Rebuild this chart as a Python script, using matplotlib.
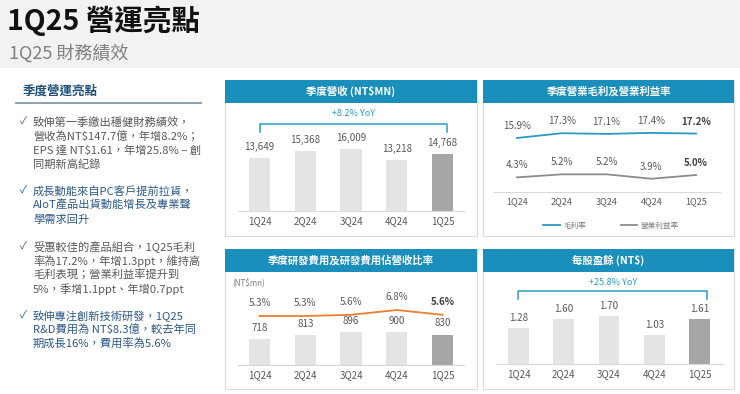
import matplotlib.pyplot as plt
from matplotlib.patches import Rectangle
from matplotlib.lines import Line2D

plt.rcParams['font.family'] = ['Noto Sans CJK TC', 'DejaVu Sans']

# data
quarters = ['1Q24', '2Q24', '3Q24', '4Q24', '1Q25']
revenue = [13649, 15368, 16009, 13218, 14768]
gross_margin = [15.9, 17.3, 17.1, 17.4, 17.2]
op_margin = [4.3, 5.2, 5.2, 3.9, 5.0]
rd_expense = [718, 813, 896, 900, 830]
rd_ratio = [5.3, 5.3, 5.6, 6.8, 5.6]
eps = [1.28, 1.60, 1.70, 1.03, 1.61]
revenue_yoy = '+8.2% YoY'
eps_yoy = '+25.8% YoY'

bullets = [
    ['致伸第一季繳出穩健財務績效，', '營收為NT$147.7億，年增8.2%；',
     'EPS 達 NT$1.61，年增25.8% – 創', '同期新高紀錄'],
    ['成長動能來自PC客戶提前拉貨，', 'AIoT產品出貨動能增長及專業聲', '學需求回升'],
    ['受惠較佳的產品組合，1Q25毛利', '率為17.2%，年增1.3ppt，維持高',
     '毛利表現；營業利益率提升到', '5%，季增1.1ppt、年增0.7ppt'],
    ['致伸專注創新技術研發，1Q25', 'R&D費用為 NT$8.3億，較去年同', '期成長16%，費用率為5.6%'],
]
bullet_colors = ['#595959', '#2e5a87', '#595959', '#2e5a87']
bullet_top = [122, 191, 247, 316]

TEAL = '#1b8fbc'
LIGHT = '#e4e4e4'
DARK = '#a6a6a6'
TXT = '#595959'

W, H = 740, 394
fig = plt.figure(figsize=(W / 100, H / 100), dpi=100, facecolor='white')

# background layer in pixel coords
bg = fig.add_axes([0, 0, 1, 1])
bg.set_xlim(0, W)
bg.set_ylim(H, 0)
bg.axis('off')

bg.add_patch(Rectangle((0, 0), W, 68, color='#f2f2f2', lw=0))
bg.text(7, 21, '1Q25 營運亮點', fontsize=20.5, fontweight='heavy', color='#111111', va='center')
bg.text(9, 53, '1Q25 財務績效', fontsize=13, fontweight='light', color='#808080', va='center')

# left text block
bg.text(23, 91, '季度營運亮點', fontsize=9, fontweight='bold', color='#1f4e79', va='center')
bg.plot([16, 201], [103, 103], color='#8497b0', lw=1.3)
for lines, col, y0 in zip(bullets, bullet_colors, bullet_top):
    bg.text(20, y0, '✓', fontsize=7.5, color=col, va='center')
    for k, ln in enumerate(lines):
        bg.text(33, y0 + k * 14.2, ln, fontsize=8.1, color=col, va='center')

# panels
panels = [
    (225, 80, 477, 236, '季度營收 (NT$MN)'),
    (483, 80, 734, 236, '季度營業毛利及營業利益率'),
    (225, 249, 477, 389, '季度研發費用及研發費用佔營收比率'),
    (483, 249, 734, 389, '每股盈餘 (NT$)'),
]
for x0, y0, x1, y1, title in panels:
    bg.add_patch(Rectangle((x0 + 1, y0 + 1), x1 - x0, y1 - y0, facecolor='#ebebeb', edgecolor='none'))
    bg.add_patch(Rectangle((x0, y0), x1 - x0, y1 - y0, facecolor='white', edgecolor='#dcdcdc', lw=0.8))
    bg.add_patch(Rectangle((x0, y0), x1 - x0, 23, facecolor=TEAL, edgecolor='none'))
    bg.text((x0 + x1) / 2, y0 + 11.5, title, fontsize=7.5, fontweight='bold', color='white',
            ha='center', va='center')


def add_ax(x0, y0, x1, y1):
    ax = fig.add_axes([x0 / W, 1 - y1 / H, (x1 - x0) / W, (y1 - y0) / H])
    ax.patch.set_alpha(0)
    for s in ['top', 'left', 'right']:
        ax.spines[s].set_visible(False)
    ax.spines['bottom'].set_color('#d9d9d9')
    ax.spines['bottom'].set_linewidth(0.8)
    ax.set_yticks([])
    ax.set_xticks(range(len(quarters)), quarters)
    ax.tick_params(axis='x', length=0, pad=4, labelsize=7, labelcolor=TXT)
    return ax


def bars(ax, values, fmt, off=8):
    ax.bar(range(len(values)), values, width=0.46, color=[LIGHT] * 4 + [DARK])
    for i, v in enumerate(values):
        ax.annotate(fmt.format(v), (i, v), xytext=(0, off), textcoords='offset points',
                    ha='center', va='center', fontsize=7, color=TXT)


def bracket(ax, x0, x1, lo, hi, label, ylab):
    ax.plot([x0, x0, x1, x1], [lo, hi, hi, lo], color='#2a9bc4', lw=1.1)
    ax.text((x0 + x1) / 2, ylab, label, ha='center', va='center', fontsize=6.5, color='#2a9bc4')


# revenue
ax1 = add_ax(238, 104, 464, 211)
ax1.set_xlim(-0.47, 4.47)
ax1.set_ylim(0, 27600)
bars(ax1, revenue, '{:,}')
bracket(ax1, 0.0, 4.1, 20400, 22460, revenue_yoy, 25050)

# margins
ax2 = add_ax(494, 104, 720, 192)
ax2.set_xlim(-0.514, 4.536)
ax2.set_ylim(0, 25.9)
ax2.tick_params(axis='x', labelsize=6.5)
ax2.plot(range(5), gross_margin, color='#2a9bc4', lw=1.3)
ax2.plot(range(5), op_margin, color='#8c8c8c', lw=1.3)
for series in (gross_margin, op_margin):
    for i, v in enumerate(series):
        ax2.annotate(f'{v:.1f}%', (i, v), xytext=(0, 8.6), textcoords='offset points',
                     ha='center', va='center', fontsize=7, color='#404040' if i == 4 else TXT,
                     fontweight='bold' if i == 4 else 'normal')
handles = [Line2D([], [], color='#2a9bc4', lw=1.3), Line2D([], [], color='#8c8c8c', lw=1.3)]
fig.legend(handles, ['毛利率', '營業利益率'], loc='center', bbox_to_anchor=(611 / W, 1 - 225.5 / H),
           ncol=2, frameon=False, fontsize=5.5, labelcolor='#7f7f7f', handlelength=2.2,
           handletextpad=0.4, columnspacing=4.5)

# R&D
ax3 = add_ax(238, 275, 464, 365)
ax3.set_xlim(-0.47, 4.47)
ax3.set_ylim(0, 2454)
bars(ax3, rd_expense, '{:d}')
ax3t = ax3.twinx()
ax3t.set_ylim(-6.95, 15.55)
ax3t.axis('off')
ax3t.plot(range(5), rd_ratio, color='#ed7d31', lw=1.3)
for i, v in enumerate(rd_ratio):
    ax3t.annotate(f'{v:.1f}%', (i, v), xytext=(0, 9.3), textcoords='offset points',
                  ha='center', va='center', fontsize=7, color='#404040' if i == 4 else TXT,
                  fontweight='bold' if i == 4 else 'normal')
bg.text(232, 283, '(NT$mn)', fontsize=5.8, style='italic', color='#7f7f7f', va='center')

# EPS
ax4 = add_ax(497, 275, 723, 364)
ax4.set_xlim(-0.475, 4.52)
ax4.set_ylim(0, 3.15)
bars(ax4, eps, '{:.2f}', off=7)
bracket(ax4, 0.0, 4.17, 2.30, 2.585, eps_yoy, 2.87)

fig.savefig('out.png', dpi=100, facecolor='white')
